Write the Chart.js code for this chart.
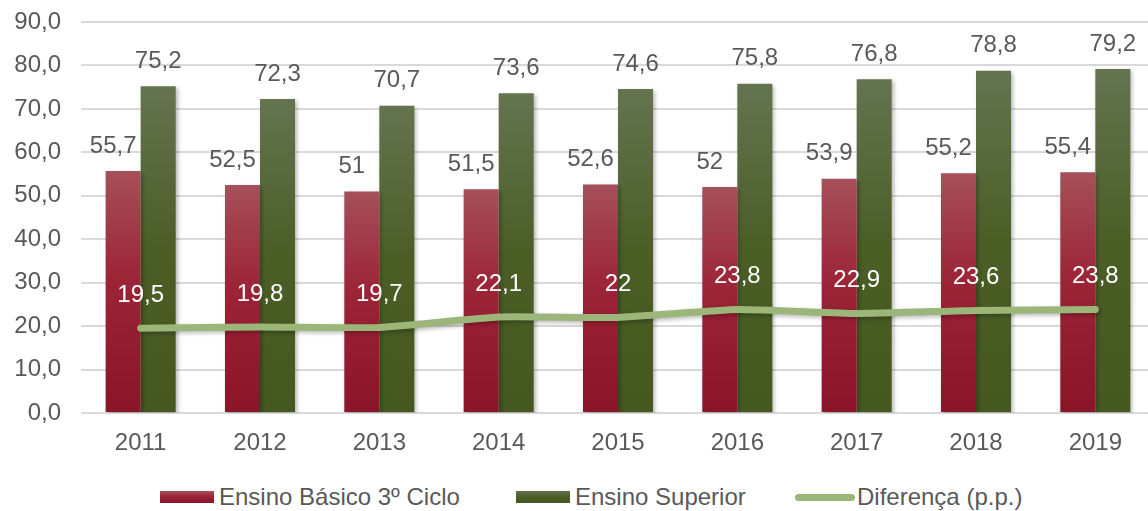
<!DOCTYPE html>
<html>
<head>
<meta charset="utf-8">
<script src="https://cdn.jsdelivr.net/npm/chart.js@4/dist/chart.umd.min.js"></script>
<style>
  html, body { margin: 0; padding: 0; background: #fff; overflow: hidden; }
  #wrap { position: relative; width: 1160px; height: 511px; }
  #chart { position: absolute; left: 0; top: 0; }
  .legend-item { position: absolute; top: 483px; height: 28px; display: flex; align-items: center;
    font-family: "Liberation Sans", Arial, sans-serif; font-size: 24px; color: #595959; white-space: nowrap; }
  .swatch { display: inline-block; margin-right: 5px; }
  .sw-red { width: 54px; height: 12px; background: linear-gradient(#a5505a, #9c2437 45%, #8a1428); }
  .sw-green { width: 54px; height: 12px; background: linear-gradient(#647450, #4b5e26 50%, #445820); }
  .sw-line { width: 60px; height: 7px; border-radius: 4px; background: #9cb67a; margin-right: 2px; }
</style>
</head>
<body>
<div id="wrap">
  <canvas id="chart" width="1160" height="470"></canvas>
  <div class="legend-item" style="left:160px"><span class="swatch sw-red"></span>Ensino Básico 3º Ciclo</div>
  <div class="legend-item" style="left:516px"><span class="swatch sw-green"></span>Ensino Superior</div>
  <div class="legend-item" style="left:795px"><span class="swatch sw-line"></span>Diferença (p.p.)</div>
</div>
<script>
// Dados
const years = ['2011', '2012', '2013', '2014', '2015', '2016', '2017', '2018', '2019'];
const basico = [55.7, 52.5, 51, 51.5, 52.6, 52, 53.9, 55.2, 55.4];
const superior = [75.2, 72.3, 70.7, 73.6, 74.6, 75.8, 76.8, 78.8, 79.2];
const diferenca = [19.5, 19.8, 19.7, 22.1, 22, 23.8, 22.9, 23.6, 23.8];
const yTicks = [0, 10, 20, 30, 40, 50, 60, 70, 80, 90];

const textGray = '#595959';
const fontFamily = '"Liberation Sans", Arial, sans-serif';

function fmt(v) {
    return String(v).replace('.', ',');
}

// gradient per bar, lighter at the top
function barGradient(stops) {
    return function(context) {
        const chart = context.chart;
        if (!chart.chartArea || context.raw === undefined) return stops[1][1];
        const y = chart.scales.y;
        const top = y.getPixelForValue(context.raw);
        const bottom = y.getPixelForValue(0);
        const g = chart.ctx.createLinearGradient(0, top, 0, bottom);
        stops.forEach(s => g.addColorStop(s[0], s[1]));
        return g;
    };
}

const shadowPlugin = {
    id: 'shadows',
    beforeDatasetsDraw(chart) {
        const c = chart.ctx;
        c.save();
        c.shadowColor = 'rgba(0,0,0,0.28)';
        c.shadowBlur = 4;
        c.shadowOffsetX = 2;
        c.shadowOffsetY = 2;
    },
    afterDatasetsDraw(chart) {
        chart.ctx.restore();
    }
};

const labelPlugin = {
    id: 'valueLabels',
    afterDatasetsDraw(chart) {
        const c = chart.ctx;
        c.save();
        c.font = '24px ' + fontFamily;
        c.textAlign = 'center';
        c.textBaseline = 'middle';
        chart.data.datasets.forEach((ds, i) => {
            const meta = chart.getDatasetMeta(i);
            meta.data.forEach((el, j) => {
                const v = ds.data[j];
                if (ds.type === 'line') {
                    c.fillStyle = '#ffffff';
                    c.fillText(fmt(v), el.x, el.y - 33);
                } else {
                    c.fillStyle = textGray;
                    const dx = i === 1 ? -10 : 0;
                    c.fillText(fmt(v), el.x + dx, el.y - 25);
                }
            });
        });
        c.restore();
    }
};

const ctx = document.getElementById('chart').getContext('2d');
const chart = new Chart(ctx, {
    data: {
        labels: years,
        datasets: [
            {
                type: 'line',
                label: 'Diferença (p.p.)',
                data: diferenca,
                borderColor: '#9cb67a',
                borderWidth: 7,
                borderCapStyle: 'round',
                borderJoinStyle: 'round',
                tension: 0.15,
                pointRadius: 0,
                fill: false,
                order: 0
            },
            {
                type: 'bar',
                label: 'Ensino Básico 3º Ciclo',
                data: basico,
                backgroundColor: barGradient([[0, '#a5505a'], [0.45, '#9c2437'], [1, '#8a1428']]),
                barPercentage: 1,
                categoryPercentage: 0.587,
                order: 1
            },
            {
                type: 'bar',
                label: 'Ensino Superior',
                data: superior,
                backgroundColor: barGradient([[0, '#647450'], [0.5, '#4b5e26'], [1, '#445820']]),
                barPercentage: 1,
                categoryPercentage: 0.587,
                order: 2
            }
        ]
    },
    options: {
        responsive: false,
        animation: false,
        layout: {
            padding: { left: 11, right: 5, top: 22, bottom: 0 }
        },
        plugins: {
            legend: { display: false },
            tooltip: { enabled: false }
        },
        scales: {
            x: {
                grid: { display: false, drawTicks: false },
                border: { display: false },
                ticks: {
                    color: textGray,
                    font: { family: fontFamily, size: 24 },
                    padding: 16,
                    maxRotation: 0
                },
                afterFit(scale) { scale.height = 57; }
            },
            y: {
                min: 0,
                max: 90,
                border: { display: false },
                grid: { color: '#d9d9d9', lineWidth: 2, drawTicks: false },
                afterBuildTicks(scale) { scale.ticks = yTicks.map(v => ({ value: v })); },
                ticks: {
                    color: textGray,
                    font: { family: fontFamily, size: 24 },
                    padding: 20,
                    callback: v => v.toFixed(1).replace('.', ',')
                },
                afterFit(scale) {
                    scale.width = 70;
                    scale.paddingTop = 0;
                    scale.paddingBottom = 0;
                }
            }
        }
    },
    plugins: [shadowPlugin, labelPlugin]
});
</script>
</body>
</html>
